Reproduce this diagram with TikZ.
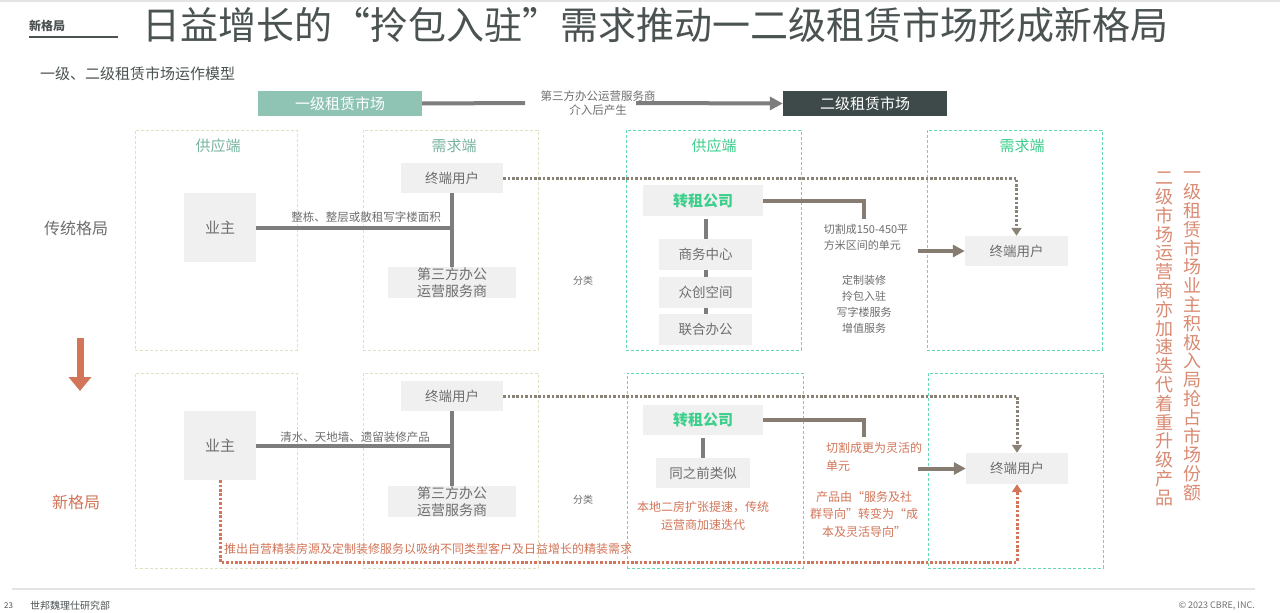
\documentclass[tikz,border=0pt]{standalone}
\usepackage{fontspec}
\setmainfont{Noto Sans CJK SC}
\usetikzlibrary{arrows.meta,calc}
\definecolor{titlegray}{HTML}{4B5252}
\definecolor{boxgray}{HTML}{F0F0F0}
\definecolor{txtgray}{HTML}{6E6E6E}
\definecolor{tealhead}{HTML}{8FC4B5}
\definecolor{tealtxt}{HTML}{7AB5A3}
\definecolor{darkhead}{HTML}{3E4A4A}
\definecolor{greentxt}{HTML}{3CCF8B}
\definecolor{beige}{HTML}{E3DFC2}
\definecolor{greenframe}{HTML}{62D9B2}
\definecolor{linegray}{HTML}{7D7D7D}
\definecolor{brown}{HTML}{867C71}
\definecolor{dotgray}{HTML}{8A8276}
\definecolor{orange}{HTML}{D27558}
\definecolor{salmon}{HTML}{D98A72}
\definecolor{rulegray}{HTML}{E4E4E4}
\newcommand{\fs}[1]{\fontsize{#1}{#1}\selectfont}
\begin{document}
\begin{tikzpicture}[x=1pt,y=-1pt,
  gbox/.style={fill=boxgray, text=txtgray, inner sep=0pt, align=center, font=\fontsize{14}{17}\selectfont},
  frameY/.style={draw=beige, line width=0.9pt, dash pattern=on 3pt off 2pt, inner sep=0pt},
  frameG/.style={draw=greenframe, line width=0.9pt, dash pattern=on 3pt off 2pt, inner sep=0pt},
  headT/.style={text=tealtxt, font=\fs{15}, inner sep=0pt},
  headG/.style={text=greentxt, font=\fs{15}, inner sep=0pt},
  conn/.style={draw=linegray, line width=4pt},
  bconn/.style={draw=brown, line width=4pt},
  dotg/.style={draw=dotgray, line width=3pt, dash pattern=on 2.6pt off 1.8pt, -{Triangle[length=8pt,width=10pt]}},
  doto/.style={draw=orange, line width=3pt, dash pattern=on 2.6pt off 1.8pt, -{Triangle[length=8pt,width=10pt]}},
  small/.style={text=txtgray, font=\fontsize{11}{16}\selectfont, inner sep=0pt, align=center},
  osmall/.style={text=orange, font=\fontsize{12}{17.5}\selectfont, inner sep=0pt, align=center},
]
\useasboundingbox[fill=white] (0,0) rectangle (1280,613);
% top rule and footer
\coordinate (tl) at (0,1); \coordinate (tr) at (1280,1);
\draw[rulegray, line width=2pt] (tl) -- (tr);
\coordinate (fl) at (12,589); \coordinate (fr) at (1255,589);
\draw[rulegray, line width=2pt] (fl) -- (fr);
\node[anchor=west, text=titlegray, font=\fs{8}, inner sep=0pt] (pg) at (4,606) {23};
\node[anchor=west, text=titlegray, font=\fs{10}, inner sep=0pt] (dept) at (30,606) {世邦魏理仕研究部};
\node[anchor=east, text=txtgray, font=\fs{9}, inner sep=0pt] (copy) at (1255,606) {© 2023 CBRE, INC.};

% header
\node[anchor=west, text=titlegray, font=\bfseries\fs{12}, inner sep=0pt] (tag) at (29,26) {新格局};
\coordinate (ul1) at (29,37); \coordinate (ul2) at (118,37);
\draw[titlegray, line width=1.2pt] (ul1) -- (ul2);
\node[anchor=west, text=titlegray, font=\fs{38}, inner sep=0pt] (title) at (142,25) {日益增长的“拎包入驻”需求推动一二级租赁市场形成新格局};
\node[anchor=west, text=titlegray, font=\fs{15}, inner sep=0pt] (sub) at (40,74) {一级、二级租赁市场运作模型};

% market heads
\node[fill=tealhead, text=white, font=\fs{15}, minimum width=164pt, minimum height=25pt, inner sep=0pt] (m1) at (340,103.5) {一级租赁市场};
\node[fill=darkhead, text=white, font=\fs{15}, minimum width=164pt, minimum height=25pt, inner sep=0pt] (m2) at (865,103.5) {二级租赁市场};
\node[small, font=\fontsize{11.5}{14}\selectfont] (mid) at (598,103) {第三方办公运营服务商\\介入后产生};
\coordinate (ma) at (525,103); \coordinate (mb) at (636,103);
\draw[conn] (m1.east) -- (ma);
\draw[conn, -{Triangle[length=13pt,width=13pt]}] (mb) -- (m2.west);

% frames top row
\node[frameY, minimum width=162pt, minimum height=220pt] (f11) at (216,240) {};
\node[frameY, minimum width=175pt, minimum height=220pt] (f12) at (450.5,240) {};
\node[frameG, minimum width=175pt, minimum height=220pt] (f13) at (713.5,240) {};
\node[frameG, minimum width=175pt, minimum height=220pt] (f14) at (1014.5,240) {};
% frames bottom row
\node[frameY, minimum width=162pt, minimum height=195pt] (f21) at (216,470.5) {};
\node[frameY, minimum width=175pt, minimum height=195pt] (f22) at (450.5,470.5) {};
\node[frameG, minimum width=176pt, minimum height=195pt] (f23) at (715,470.5) {};
\node[frameG, minimum width=175pt, minimum height=195pt] (f24) at (1015.5,470.5) {};

\node[headT] (h1) at (218,146) {供应端};
\node[headT] (h2) at (454,146) {需求端};
\node[headG] (h3) at (714,146) {供应端};
\node[headG] (h4) at (1022,146) {需求端};

% left labels
\node[text=txtgray, font=\fs{16}, inner sep=0pt] (trad) at (76,228) {传统格局};
\node[text=orange, font=\fs{16}, inner sep=0pt] (newp) at (76,502) {新格局};
\coordinate (da) at (80,338); \coordinate (db) at (80,391);
\draw[orange, line width=7pt, -{Triangle[length=14pt,width=22pt]}] (da) -- (db);

% ---------- top row ----------
\node[gbox, font=\fs{15}, minimum width=72pt, minimum height=69pt] (yz1) at (220,227.5) {业主};
\node[gbox, font=\fs{13.5}, minimum width=102pt, minimum height=30pt] (tu1) at (452,178) {终端用户};
\node[gbox, minimum width=128pt, minimum height=31pt] (sf1) at (452,282.5) {第三方办公\\运营服务商};
\draw[conn] (yz1.east) -- (yz1.east -| tu1.south);
\draw[conn] (tu1.south) -- (sf1.north);
\node[small, font=\fs{11.5}] (l1) at (366,217) {整栋、整层或散租写字楼面积};

\node[gbox, text=greentxt, font=\bfseries\fs{15}, minimum width=120pt, minimum height=31pt] (zz1) at (703,200.5) {转租公司};
\node[gbox, font=\fs{13.5}, minimum width=93pt, minimum height=31pt] (c1) at (705.5,254.5) {商务中心};
\node[gbox, font=\fs{13.5}, minimum width=93pt, minimum height=31pt] (c2) at (705.5,292.5) {众创空间};
\node[gbox, font=\fs{13.5}, minimum width=93pt, minimum height=31pt] (c3) at (705.5,329.5) {联合办公};
\draw[conn] (zz1.south -| c1.north) ++(0,3) -- (c1.north);
\draw[conn] (c1.south) -- (c2.north);
\draw[conn] (c2.south) -- (c3.north);
\coordinate (k1) at (864,219);
\draw[bconn] (zz1.east) -| (k1);
\node[small, align=left, font=\fontsize{11}{16}\selectfont] (cut1) at (866,237) {切割成150-450平\\方米区间的单元};
\node[small, font=\fontsize{11}{16}\selectfont] (svc1) at (864,304) {定制装修\\拎包入驻\\写字楼服务\\增值服务};
\node[gbox, font=\fs{13.5}, minimum width=103pt, minimum height=30pt] (eu1) at (1016.5,251) {终端用户};
\coordinate (a1) at (918,251);
\draw[bconn, -{Triangle[length=12pt,width=12pt]}] (a1) -- (eu1.west);
\draw[dotg] (tu1.east) -| (eu1.north);
\node[small, font=\fs{10}] (fl1) at (583,281) {分类};

% ---------- bottom row ----------
\node[gbox, font=\fs{15}, minimum width=72pt, minimum height=69pt] (yz2) at (220,445.5) {业主};
\node[gbox, font=\fs{13.5}, minimum width=102pt, minimum height=30pt] (tu2) at (452,396) {终端用户};
\node[gbox, minimum width=128pt, minimum height=31pt] (sf2) at (452,501.5) {第三方办公\\运营服务商};
\draw[conn] (yz2.east) -- (yz2.east -| tu2.south);
\draw[conn] (tu2.south) -- (sf2.north);
\node[small, font=\fs{11.5}] (l2) at (355,437) {清水、天地墙、遗留装修产品};

\node[gbox, text=greentxt, font=\bfseries\fs{15}, minimum width=120pt, minimum height=30pt] (zz2) at (703,420) {转租公司};
\node[gbox, font=\fs{13.5}, minimum width=94pt, minimum height=30pt] (sim) at (703,473) {同之前类似};
\draw[conn] (zz2.south) ++(0,3) -- (sim.north);
\node[osmall] (loc) at (703,516) {本地二房扩张提速，传统\\运营商加速迭代};
\coordinate (k2) at (864,437);
\draw[bconn] (zz2.east) -| (k2);
\node[osmall, align=left, anchor=west] (cut2) at (826,457) {切割成更为灵活的\\单元};
\node[osmall] (prod) at (864,514) {产品由“服务及社\\群导向”转变为“成\\本及灵活导向”};
\node[gbox, font=\fs{13.5}, minimum width=102pt, minimum height=31pt] (eu2) at (1017,468.5) {终端用户};
\coordinate (a2) at (918,468.5);
\draw[bconn, -{Triangle[length=12pt,width=12pt]}] (a2) -- (eu2.west);
\draw[dotg] (tu2.east) -| (eu2.north);
\node[small, font=\fs{10}] (fl2) at (583,500) {分类};

\coordinate (ob) at (219,562);
\draw[doto] (yz2.south) -- (yz2.south |- ob) -| (eu2.south);
\node[osmall, anchor=west] (push) at (224,549) {推出自营精装房源及定制装修服务以吸纳不同类型客户及日益增长的精装需求};

% right vertical text
\node[text=salmon, font=\fontsize{18}{18.8}\selectfont, align=center, inner sep=0pt, anchor=north] (v1) at (1192,172) {一\\级\\租\\赁\\市\\场\\业\\主\\积\\极\\入\\局\\抢\\占\\市\\场\\份\\额};
\node[text=salmon, font=\fontsize{18}{18.8}\selectfont, align=center, inner sep=0pt, anchor=north] (v2) at (1164,172) {二\\级\\市\\场\\运\\营\\商\\亦\\加\\速\\迭\\代\\着\\重\\升\\级\\产\\品};
\end{tikzpicture}
\end{document}
